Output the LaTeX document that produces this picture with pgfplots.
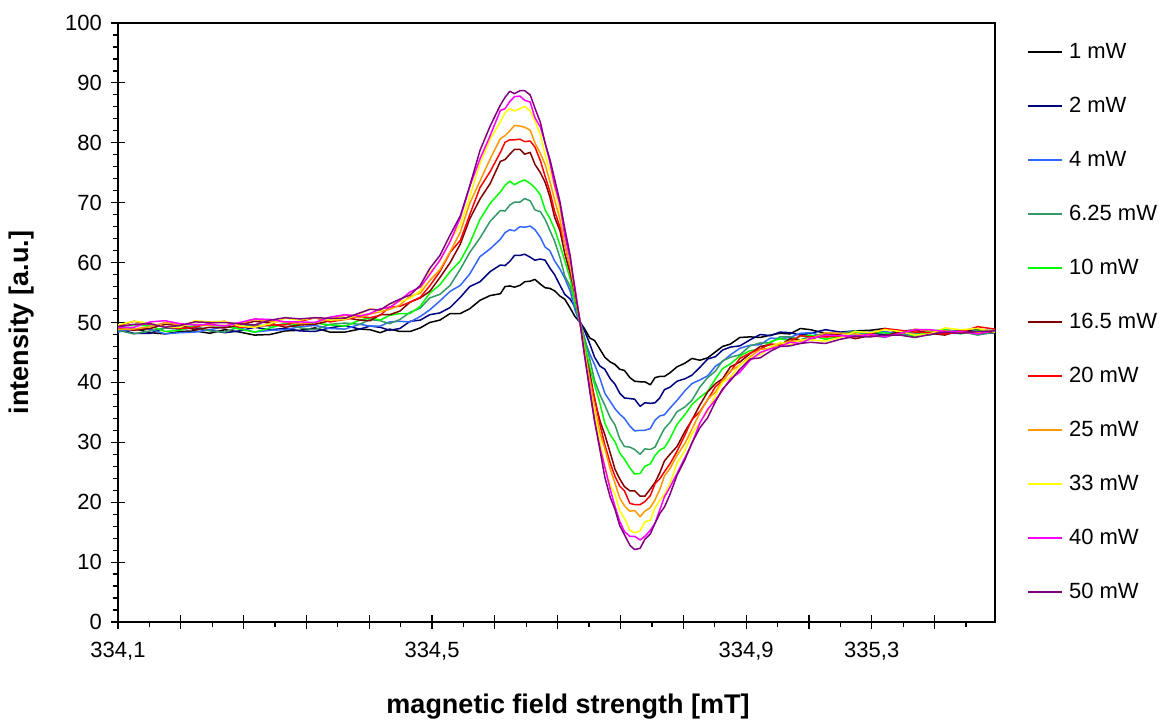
\documentclass[border=0pt]{standalone}
\usepackage{pgfplots}
\pgfplotsset{compat=1.18}
\usepackage{pgfplotstable}
\usepackage{fontspec}
\setmainfont{Liberation Sans}
\definecolor{c1}{RGB}{0,0,0}
\definecolor{c2}{RGB}{0,0,128}
\definecolor{c4}{RGB}{51,102,255}
\definecolor{c6}{RGB}{51,153,102}
\definecolor{c10}{RGB}{0,255,0}
\definecolor{c16}{RGB}{128,0,0}
\definecolor{c20}{RGB}{255,0,0}
\definecolor{c25}{RGB}{255,153,0}
\definecolor{c33}{RGB}{255,255,0}
\definecolor{c40}{RGB}{255,0,255}
\definecolor{c50}{RGB}{128,0,128}

\pgfplotstableread{
x p1 p2 p4 p6 p10 p16 p20 p25 p33 p40 p50
334.100 48.6 48.9 48.4 48.7 49.3 49.0 49.4 48.9 49.6 49.2 49.3
334.120 49.0 48.2 49.0 48.1 49.6 48.7 50.2 48.9 50.2 49.2 49.7
334.141 48.3 48.2 48.9 48.6 49.4 49.0 49.7 49.3 49.9 50.1 49.8
334.160 48.1 49.1 48.1 49.1 48.5 49.7 49.3 50.0 49.2 50.3 49.2
334.179 48.5 48.9 48.3 49.2 48.7 49.5 49.0 49.6 49.2 49.8 49.5
334.198 48.6 49.1 48.4 49.4 49.5 48.8 49.2 49.7 50.3 49.6 50.1
334.217 48.2 48.7 48.8 48.6 49.5 49.2 49.9 49.5 50.1 49.7 50.0
334.236 48.8 48.3 49.3 48.4 49.4 49.1 50.2 49.5 50.2 49.4 50.0
334.255 48.4 48.6 49.1 49.3 48.9 49.6 49.2 49.8 49.4 50.0 49.8
334.274 47.9 49.2 48.4 49.6 48.4 50.2 49.3 50.5 49.2 50.6 49.6
334.294 48.0 48.8 48.7 49.4 49.1 49.9 49.6 50.2 49.8 50.5 50.4
334.313 48.6 49.0 48.8 49.8 49.8 49.2 49.6 50.1 50.7 50.1 50.8
334.332 48.7 48.6 49.3 49.1 49.7 49.6 50.2 49.8 50.4 50.1 50.6
334.351 49.1 48.5 49.5 48.8 49.9 49.7 50.8 50.0 50.8 50.0 50.8
334.370 48.4 49.1 49.0 49.7 49.6 50.3 50.1 50.6 50.4 50.9 50.7
334.389 48.4 49.5 48.9 49.9 49.4 50.8 50.5 51.2 50.5 51.3 50.7
334.408 48.9 48.9 49.7 49.7 50.4 50.4 51.0 50.8 51.4 51.1 51.6
334.421 48.8 49.4 49.4 50.5 50.8 50.3 50.8 51.4 52.3 51.5 52.2
334.434 48.3 49.2 49.4 50.3 50.4 51.3 51.2 51.8 51.9 52.3 52.1
334.446 48.9 48.7 50.1 49.8 51.2 51.3 52.6 52.2 53.1 52.5 53.1
334.459 48.5 49.0 50.2 50.5 51.5 51.9 52.7 52.9 53.5 53.7 53.9
334.472 48.5 50.2 50.1 51.7 51.5 53.4 53.4 54.4 54.0 55.1 54.6
334.485 49.1 50.4 51.0 52.4 52.7 54.1 54.2 54.9 55.3 55.9 56.2
334.497 50.0 51.3 52.1 54.1 54.9 55.2 56.1 57.0 58.4 58.0 59.0
334.510 50.4 51.6 53.6 54.7 56.3 57.5 58.5 58.8 60.2 60.4 61.2
334.523 51.5 52.5 55.2 56.2 58.5 60.0 61.7 61.8 63.7 63.5 64.6
334.536 51.5 54.2 56.2 58.9 60.3 63.1 63.7 65.1 66.3 67.5 67.8
334.548 52.3 56.0 58.1 61.7 63.2 67.3 68.0 69.9 71.0 72.7 72.8
334.561 53.7 56.8 61.0 64.1 67.2 70.6 72.5 73.6 76.5 77.3 78.7
334.574 54.5 58.5 62.3 66.9 69.9 73.2 75.2 77.3 80.6 81.2 82.8
334.587 54.8 59.6 63.9 68.7 71.8 76.9 78.4 80.7 83.5 85.4 86.3
334.593 56.0 59.5 65.0 68.6 72.9 77.2 80.1 81.2 85.0 85.7 87.6
334.599 56.1 60.2 65.5 69.6 73.6 78.1 80.5 82.0 85.7 86.9 88.6
334.605 55.9 61.2 65.3 70.1 73.0 78.9 80.5 82.9 85.3 87.7 88.2
334.612 56.2 61.2 66.0 70.1 73.5 78.9 80.6 82.8 85.7 87.8 88.7
334.618 56.8 61.4 65.9 70.7 73.8 78.1 80.2 82.6 86.1 87.1 88.7
334.625 56.9 60.9 66.1 70.3 73.2 78.4 80.3 82.1 85.3 86.8 88.0
334.631 57.2 60.4 65.5 68.8 72.5 76.4 79.3 80.0 83.7 84.2 85.8
334.638 56.4 60.6 64.2 68.5 71.3 75.0 77.0 78.2 81.3 82.6 83.4
334.644 55.8 60.4 62.6 67.2 68.8 73.4 74.4 76.4 78.0 80.0 79.9
334.650 55.7 59.1 62.0 65.4 67.4 71.0 71.9 73.6 75.4 76.8 77.3
334.656 55.3 58.0 60.3 63.6 65.6 67.6 68.6 70.5 72.5 73.0 74.0
334.663 54.4 56.2 58.9 60.8 62.9 65.3 65.9 67.2 68.4 69.6 70.1
334.669 53.9 54.7 57.4 57.8 60.3 61.5 63.1 63.1 64.8 64.6 65.7
334.676 52.4 53.9 55.2 56.0 57.3 58.2 59.1 59.3 60.4 60.5 61.1
334.682 51.0 52.6 52.1 53.4 53.2 54.8 54.6 55.5 55.0 55.8 55.3
334.688 50.1 50.3 50.0 50.4 50.2 50.5 50.3 50.6 50.4 50.5 50.5
334.694 49.0 48.7 47.2 47.6 46.7 45.4 45.2 45.6 45.4 44.6 44.8
334.701 47.4 46.4 44.7 43.8 42.4 41.5 40.6 40.4 39.1 39.0 38.4
334.707 47.0 44.2 43.0 40.3 39.6 37.2 37.4 35.8 35.1 33.5 33.6
334.714 45.5 42.7 40.6 37.9 36.4 33.5 32.9 31.5 30.2 29.0 28.6
334.720 44.2 42.2 38.2 36.2 33.2 31.3 29.6 29.0 26.1 25.9 24.2
334.727 43.4 40.6 36.8 34.1 31.2 28.2 26.5 25.5 22.8 22.1 20.8
334.733 43.0 39.7 35.6 32.9 30.1 25.5 24.3 23.2 21.3 19.3 18.8
334.739 42.2 38.2 34.7 30.6 28.2 23.9 22.7 20.7 18.5 16.8 16.1
334.745 42.0 37.4 34.0 29.3 27.2 22.6 21.9 19.4 17.3 15.1 14.6
334.752 40.8 37.3 32.7 29.2 25.7 21.9 19.8 18.5 15.3 14.3 12.8
334.758 40.2 37.2 31.9 28.8 24.7 21.9 19.6 18.6 14.9 14.3 12.1
334.765 40.1 36.0 32.0 28.0 24.8 21.0 19.6 17.6 15.2 13.7 12.3
334.771 40.1 36.6 32.0 28.9 26.0 21.0 20.1 18.5 16.7 14.3 13.8
334.778 39.6 36.5 32.3 28.8 26.4 22.2 21.1 19.1 17.0 15.3 14.7
334.784 40.8 36.6 33.7 29.2 27.8 23.3 23.1 20.4 19.1 16.5 16.5
334.790 41.0 37.4 34.4 30.8 28.7 24.9 23.9 22.1 20.3 18.7 18.1
334.796 41.0 38.8 34.6 32.3 29.1 26.9 25.1 24.4 21.3 20.9 19.2
334.803 41.6 39.2 35.7 33.3 30.6 28.0 26.4 25.6 23.1 22.5 21.3
334.812 42.6 40.2 37.0 35.1 33.0 29.3 28.5 27.8 26.5 24.8 24.5
334.822 43.2 40.6 38.6 35.9 34.6 31.8 31.2 29.8 28.6 27.4 27.1
334.831 44.0 41.2 39.8 37.0 36.3 33.7 33.8 32.2 31.4 29.8 29.9
334.841 43.7 42.5 40.4 39.2 37.5 36.2 35.1 34.9 33.3 33.2 32.4
334.851 44.1 43.9 41.1 40.8 38.5 38.4 37.1 37.2 35.2 35.5 34.1
334.861 45.1 44.3 42.7 41.9 40.6 39.8 39.3 38.4 37.9 37.1 36.8
334.870 46.0 45.4 43.5 43.6 42.3 40.6 40.3 40.3 40.0 38.7 38.9
334.880 46.4 45.9 44.6 44.2 43.1 42.6 41.8 41.9 40.9 40.6 40.3
334.892 47.5 46.1 45.7 44.6 44.4 43.4 44.0 42.9 42.9 41.7 42.2
334.905 47.6 47.1 46.2 46.1 45.3 44.8 44.9 44.3 44.1 43.7 43.9
334.918 47.5 48.0 46.3 46.6 45.5 46.0 45.6 45.5 44.6 45.0 44.1
334.931 47.9 47.8 47.4 46.6 46.8 46.3 46.4 45.7 45.9 45.6 45.2
334.943 48.2 48.4 47.3 47.6 47.3 46.2 46.3 46.4 46.7 46.0 46.0
334.956 48.1 48.3 47.5 47.6 47.0 47.3 46.8 46.9 46.3 46.7 46.1
334.969 49.0 47.9 48.2 47.1 47.7 47.0 47.8 46.9 47.1 46.5 46.5
334.982 48.8 48.2 48.3 47.7 47.9 47.2 47.6 47.3 47.1 47.3 46.7
335.001 48.2 48.8 47.6 48.2 47.2 48.0 47.6 48.3 46.9 47.9 46.5
335.020 48.1 48.4 47.8 48.2 47.6 47.9 47.7 48.2 47.5 47.8 47.2
335.039 48.6 48.6 47.9 48.6 48.4 47.3 47.6 48.1 48.5 47.7 47.7
335.058 48.7 48.2 48.4 47.9 48.3 47.8 48.1 47.7 48.3 48.0 47.6
335.077 49.0 48.0 48.5 47.5 48.3 47.8 49.0 47.7 48.8 47.6 47.9
335.096 48.2 48.5 48.0 48.3 47.9 48.4 48.7 48.1 48.5 48.2 47.9
335.115 48.0 48.8 47.8 48.3 47.7 48.7 48.4 48.9 47.9 48.8 47.5
335.134 48.4 48.1 48.5 47.9 48.6 48.2 48.3 48.6 48.1 48.8 48.0
335.153 48.6 48.7 48.2 48.7 48.8 47.9 48.1 48.6 49.1 48.5 48.4
335.173 48.3 48.6 48.2 48.5 48.1 48.7 48.4 48.3 48.8 48.5 48.2
335.195 48.9 48.1 48.7 47.9 48.6 48.3 49.3 48.3 49.0 48.1 48.5
335.217 48.5 48.3 48.6 48.4 48.7 48.5 48.9 48.6 48.4 48.7 48.6
}\data

\begin{document}
\begin{tikzpicture}
\begin{axis}[
  scale only axis,
  width=438.5pt, height=299.5pt,
  xmin=334.1, xmax=335.217, ymin=0, ymax=100,
  xtick={334.10,334.18,334.26,334.34,334.42,334.50,334.58,334.66,334.74,334.82,334.90,334.98,335.06,335.14,335.22},
  xticklabels={{334,1},,,,,{334,5},,,,,{334,9},,{335,3},,},
  ytick={0,10,...,100},
  minor x tick num=1, minor y tick num=4,
  tick pos=left,
  tick align=outside,
  major tick length=3.5pt, minor tick length=2.7pt,
  extra x ticks={334.10,334.18,334.26,334.34,334.42,334.50,334.58,334.66,334.74,334.82,334.90,334.98,335.06,335.14,335.22},
  extra x tick labels={},
  extra x tick style={tick align=inside, major tick length=3.5pt},
  extra y ticks={0,10,20,30,40,50,60,70,80,90,100},
  extra y tick labels={},
  extra y tick style={tick align=inside, major tick length=3.5pt},
  tick style={black, line width=0.6pt},
  axis line style={black, line width=0.75pt},
  /pgf/number format/assume math mode=true,
  ticklabel style={font=\fontsize{11}{13}\selectfont},
  xticklabel style={yshift=-3pt},
  yticklabel style={xshift=-1pt},
  xlabel={magnetic field strength [mT]},
  ylabel={intensity [a.u.]},
  label style={font=\bfseries\fontsize{13.5}{16}\selectfont},
  xlabel style={at={(axis description cs:0.5131,-0.1419)}, anchor=center},
  ylabel style={at={(axis description cs:-0.1095,0.5)}, anchor=center},
  legend style={at={(1,1)}, anchor=north west, xshift=16pt, yshift=-9.4pt,
    draw=none, fill=none, inner sep=0pt, row sep=17pt, column sep=3pt,
    nodes={inner sep=0pt, text height=8pt, text depth=2pt, font=\fontsize{11}{13}\selectfont}},
  legend cell align=left,
  every axis plot/.append style={line width=0.75pt, line join=round},
]
\addplot[color=c1] table[x=x,y=p1]{\data}; \addlegendentry{1 mW}
\addplot[color=c2] table[x=x,y=p2]{\data}; \addlegendentry{2 mW}
\addplot[color=c4] table[x=x,y=p4]{\data}; \addlegendentry{4 mW}
\addplot[color=c6] table[x=x,y=p6]{\data}; \addlegendentry{6.25 mW}
\addplot[color=c10] table[x=x,y=p10]{\data}; \addlegendentry{10 mW}
\addplot[color=c16] table[x=x,y=p16]{\data}; \addlegendentry{16.5 mW}
\addplot[color=c20] table[x=x,y=p20]{\data}; \addlegendentry{20 mW}
\addplot[color=c25] table[x=x,y=p25]{\data}; \addlegendentry{25 mW}
\addplot[color=c33] table[x=x,y=p33]{\data}; \addlegendentry{33 mW}
\addplot[color=c40] table[x=x,y=p40]{\data}; \addlegendentry{40 mW}
\addplot[color=c50] table[x=x,y=p50]{\data}; \addlegendentry{50 mW}
\end{axis}
\pgfresetboundingbox
\useasboundingbox (-59pt,-51pt) rectangle (521pt,311pt);
\end{tikzpicture}
\end{document}
